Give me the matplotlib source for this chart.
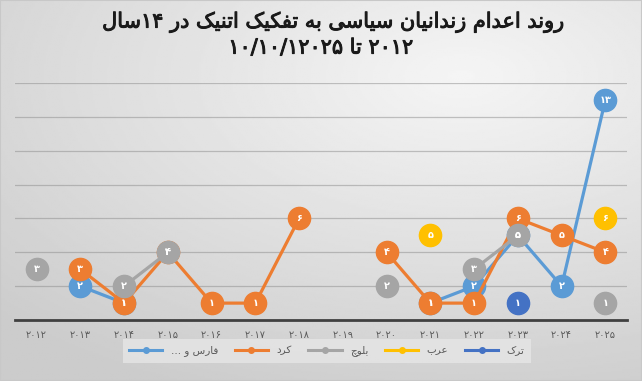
import re
import numpy as np
import matplotlib
matplotlib.use("Agg")
import matplotlib.pyplot as plt
import matplotlib.patheffects as pe
from matplotlib.lines import Line2D

# --- data -------------------------------------------------------------
years = list(range(2012, 2026))
nan = np.nan
fars = [nan, 2, 1, nan, nan, nan, nan, nan, nan, 1, 2, 5, 2, 13]
kurd = [nan, 3, 1, 4, 1, 1, 6, nan, 4, 1, 1, 6, 5, 4]
baluch = [3, nan, 2, 4, nan, nan, nan, nan, 2, nan, 3, 5, nan, 1]
arab = [nan, nan, nan, nan, nan, nan, nan, nan, nan, 5, nan, nan, nan, 6]
turk = [nan, nan, nan, nan, nan, nan, nan, nan, nan, nan, nan, 1, nan, nan]

series_names = ["فارس و ...", "کرد", "بلوچ", "عرب", "ترک"]
series_vals = [fars, kurd, baluch, arab, turk]
colors = ["#5B9BD5", "#ED7D31", "#A5A5A5", "#FFC000", "#4472C4"]

title1 = "روند اعدام زندانیان سیاسی به تفکیک اتنیک در ۱۴سال"
title2 = "۲۰۱۲ تا ۱۰/۱۰/۱۲۰۲۵"

# --- minimal persian shaping (matplotlib has no bidi / joining) ------
FORMS = {
    "ا": ("\uFE8D", "\uFE8E", None, None),
    "ب": ("\uFE8F", "\uFE90", "\uFE91", "\uFE92"),
    "ت": ("\uFE95", "\uFE96", "\uFE97", "\uFE98"),
    "چ": ("\uFB7A", "\uFB7B", "\uFB7C", "\uFB7D"),
    "د": ("\uFEA9", "\uFEAA", None, None),
    "ر": ("\uFEAD", "\uFEAE", None, None),
    "ز": ("\uFEAF", "\uFEB0", None, None),
    "س": ("\uFEB1", "\uFEB2", "\uFEB3", "\uFEB4"),
    "ع": ("\uFEC9", "\uFECA", "\uFECB", "\uFECC"),
    "ف": ("\uFED1", "\uFED2", "\uFED3", "\uFED4"),
    "ک": ("\uFB8E", "\uFB8F", "\uFB90", "\uFB91"),
    "ل": ("\uFEDD", "\uFEDE", "\uFEDF", "\uFEE0"),
    "م": ("\uFEE1", "\uFEE2", "\uFEE3", "\uFEE4"),
    "ن": ("\uFEE5", "\uFEE6", "\uFEE7", "\uFEE8"),
    "ه": ("\uFEE9", "\uFEEA", "\uFEEB", "\uFEEC"),
    "و": ("\uFEED", "\uFEEE", None, None),
    "ی": ("\uFBFC", "\uFBFD", "\uFBFE", "\uFBFF"),
}
RIGHT_ONLY = set("ادذرزژو")


def shape(text):
    out = []
    for i, ch in enumerate(text):
        if ch not in FORMS:
            out.append(ch)
            continue
        prev = text[i - 1] if i > 0 else ""
        nxt = text[i + 1] if i + 1 < len(text) else ""
        jp = prev in FORMS and prev not in RIGHT_ONLY
        jn = ch not in RIGHT_ONLY and nxt in FORMS
        iso, fin, ini, med = FORMS[ch]
        out.append(med if jp and jn else fin if jp else ini if jn else iso)
    return "".join(out)


def fa(text):
    runs = re.findall(r"[۰-۹0-9/]+|[^۰-۹0-9/]", shape(text))
    return "".join(reversed(runs))


def fa_digits(s):
    return str(s).translate(str.maketrans("0123456789", "۰۱۲۳۴۵۶۷۸۹"))


# --- figure -----------------------------------------------------------
fig = plt.figure(figsize=(6.42, 3.81), dpi=100)

# excel-like soft radial background
bg = fig.add_axes([0, 0, 1, 1], zorder=-10)
yy, xx = np.mgrid[0:1:200j, 0:1:340j]
r = np.sqrt(((xx - 0.72) / 1.0) ** 2 + ((yy - 0.2) / 0.9) ** 2)
shade = 0.96 - 0.16 * np.clip(r, 0, 1)
bg.imshow(shade, cmap="gray", vmin=0, vmax=1, aspect="auto",
          extent=[0, 1, 0, 1], origin="upper")
bg.set_xlim(0, 1)
bg.set_ylim(0, 1)
bg.axis("off")
bg.add_patch(plt.Rectangle((0, 0), 1, 1, fill=False, ec="#c8c8c8", lw=1.5))

ax = fig.add_axes([0.023, 0.160, 0.954, 0.622])
ax.set_facecolor("none")

x = np.arange(len(years))
for i, (name, vals, c) in enumerate(zip(series_names, series_vals, colors)):
    v = np.array(vals, dtype=float)
    ax.plot(x, v, color=c, lw=2.3, marker="o", ms=16, mec=c, mfc=c,
            zorder=3 + i, label=fa(name), solid_capstyle="round")
    for xi, yi in zip(x, v):
        if not np.isnan(yi):
            ax.text(xi, yi, fa_digits(int(yi)), color="white", fontsize=7,
                    fontweight="bold", ha="center", va="center", zorder=20)

ax.set_xlim(-0.5, len(years) - 0.5)
ax.set_ylim(0, 14)
ax.set_yticks(np.arange(2, 15, 2))
ax.yaxis.grid(True, color="#8c8c8c", lw=0.9, alpha=0.5)
ax.tick_params(axis="y", left=False, labelleft=False)
ax.set_xticks(x)
ax.set_xticklabels([fa_digits(y) for y in years], fontsize=7, color="#595959")
ax.tick_params(axis="x", length=0, pad=7)
for s in ["top", "right", "left"]:
    ax.spines[s].set_visible(False)
ax.spines["bottom"].set_color("#404040")
ax.spines["bottom"].set_linewidth(2)
ax.set_axisbelow(True)

thick = [pe.withStroke(linewidth=0.7, foreground="#1a1a1a")]
fig.text(0.52, 0.942, fa(title1), ha="center", va="center", fontsize=15,
         color="#1a1a1a", path_effects=thick)
fig.text(0.50, 0.875, fa(title2), ha="center", va="center", fontsize=15,
         color="#1a1a1a", path_effects=thick)

labels = [fa(n) for n in series_names]
handles = [Line2D([], [], color=c, lw=2.2, marker="o", ms=4) for c in colors]
leg = fig.legend(handles, labels, loc="center", bbox_to_anchor=(0.509, 0.079),
                 ncol=5, fontsize=7.5, frameon=True, fancybox=False,
                 handlelength=3.2, columnspacing=1.6, handletextpad=0.8,
                 borderpad=0.6, labelcolor="#595959")
leg.get_frame().set_facecolor("#e6e6e6")
leg.get_frame().set_edgecolor("none")

fig.savefig("out.png", dpi=100)
